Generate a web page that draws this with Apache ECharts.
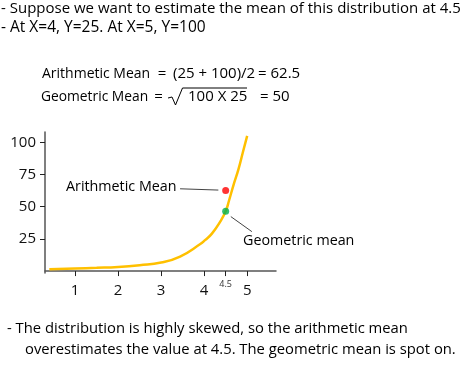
<!DOCTYPE html>
<html><head><meta charset="utf-8">
<script src="https://cdn.jsdelivr.net/npm/echarts@6/dist/echarts.min.js"></script>
<style>html,body{margin:0;padding:0;background:#fff}#c{width:461px;height:367px}</style>
</head><body><div id="c"></div>
<script>
// Curve values
const curveX = [0.4, 1, 1.5, 2, 2.5, 3, 3.44, 3.91, 4.02, 4.18, 4.37, 4.5, 4.58, 4.68, 4.8, 4.9, 5.0];
const curveY = [1.5, 2.0, 2.5, 3.2, 4.6, 6.7, 11.3, 21.0, 24, 29.1, 38.2, 46.4, 55, 66.6, 79.4, 92.3, 105];
// Mean markers
const meanX = 4.5;
const arithMean = 62.5;
const geoMeanOnCurve = 46.4;
// Tick labels
const xTicks = [1, 2, 3, 4, 4.5, 5];
const xLabels = [1, 2, 3, 4, 5];
const xSmallLabels = [4.5];
const yTicks = [25, 50, 75, 100];
// Leader line endpoints (data space)
const arithLeader = [[3.44, 63.9], [4.33, 62.9]];
const geoLeader = [[4.62, 42.3], [5.11, 30.6]];

const FONT = '"Open Sans", sans-serif';
const chart = echarts.init(document.getElementById('c'), null, {renderer: 'canvas'});

function txt(text, x, y, size, align) {
  return {type: 'text', x: x, y: y, style: {text: text, fill: '#000', font: size + 'px ' + FONT,
    textAlign: align || 'left', textVerticalAlign: 'middle'}};
}

const option = {
  animation: false,
  backgroundColor: '#fff',
  grid: {left: 45, right: 185, top: 132, bottom: 94, containLabel: false},
  xAxis: [{
    type: 'value', min: 0.3, max: 5.67,
    axisLine: {lineStyle: {color: '#555', width: 1.5}},
    axisTick: {show: true, customValues: xTicks, length: 5, lineStyle: {color: '#222'}},
    axisLabel: {customValues: xLabels, fontFamily: FONT, fontSize: 15, color: '#111', margin: 10},
    splitLine: {show: false}
  }, {
    type: 'value', min: 0.3, max: 5.67, position: 'bottom',
    axisLine: {show: false}, axisTick: {show: false},
    axisLabel: {customValues: xSmallLabels, fontFamily: FONT, fontSize: 9, color: '#333', margin: 7},
    splitLine: {show: false}
  }],
  yAxis: {
    type: 'value', min: -1.5, max: 108,
    axisLine: {show: true, lineStyle: {color: '#555', width: 1.5}},
    axisTick: {show: true, customValues: yTicks, length: 5, lineStyle: {color: '#222'}},
    axisLabel: {customValues: yTicks, fontFamily: FONT, fontSize: 15, color: '#111', margin: 9},
    splitLine: {show: false}
  },
  series: [{
    type: 'line', smooth: 0.5, showSymbol: false,
    data: curveX.map((x, i) => [x, curveY[i]]),
    lineStyle: {color: '#FFC000', width: 2.5},
    markLine: {
      silent: true, symbol: 'none', label: {show: false},
      lineStyle: {color: '#444', width: 1, type: 'solid'},
      data: [
        [{coord: arithLeader[0]}, {coord: arithLeader[1]}],
        [{coord: geoLeader[0]}, {coord: geoLeader[1]}]
      ]
    }
  }, {
    type: 'scatter', symbolSize: 7, z: 5,
    data: [{value: [meanX, arithMean], itemStyle: {color: '#FF0000'}},
           {value: [meanX, geoMeanOnCurve], itemStyle: {color: '#00B050'}}]
  }],
  graphic: [
    txt('- Suppose we want to estimate the mean of this distribution at 4.5', 1, 9, 15),
    txt('- At X=4, Y=25. At X=5, Y=100', 1, 28, 15.5),
    txt('Arithmetic Mean', 42, 74, 14),
    txt('=', 162, 74, 15, 'center'),
    txt('(25 + 100)/2', 173, 74, 15),
    txt('= 62.5', 258, 74, 15),
    txt('Geometric Mean', 41, 97, 13.8),
    txt('=', 158.5, 97, 15, 'center'),
    {type: 'polyline', shape: {points: [[168, 98], [172, 97], [175.5, 105], [182.5, 88], [247, 88]]},
     style: {stroke: '#000', lineWidth: 1, fill: null}},
    txt('100 X 25', 188, 97, 15),
    txt('= 50', 260, 97, 15),
    txt('Arithmetic Mean', 66, 187, 14.3),
    txt('Geometric mean', 243, 241, 14.3),
    txt('- The distribution is highly skewed, so the arithmetic mean', 7, 329, 14.8),
    txt('overestimates the value at 4.5. The geometric mean is spot on.', 25, 350, 14.8)
  ]
};
chart.setOption(option);
</script></body></html>
